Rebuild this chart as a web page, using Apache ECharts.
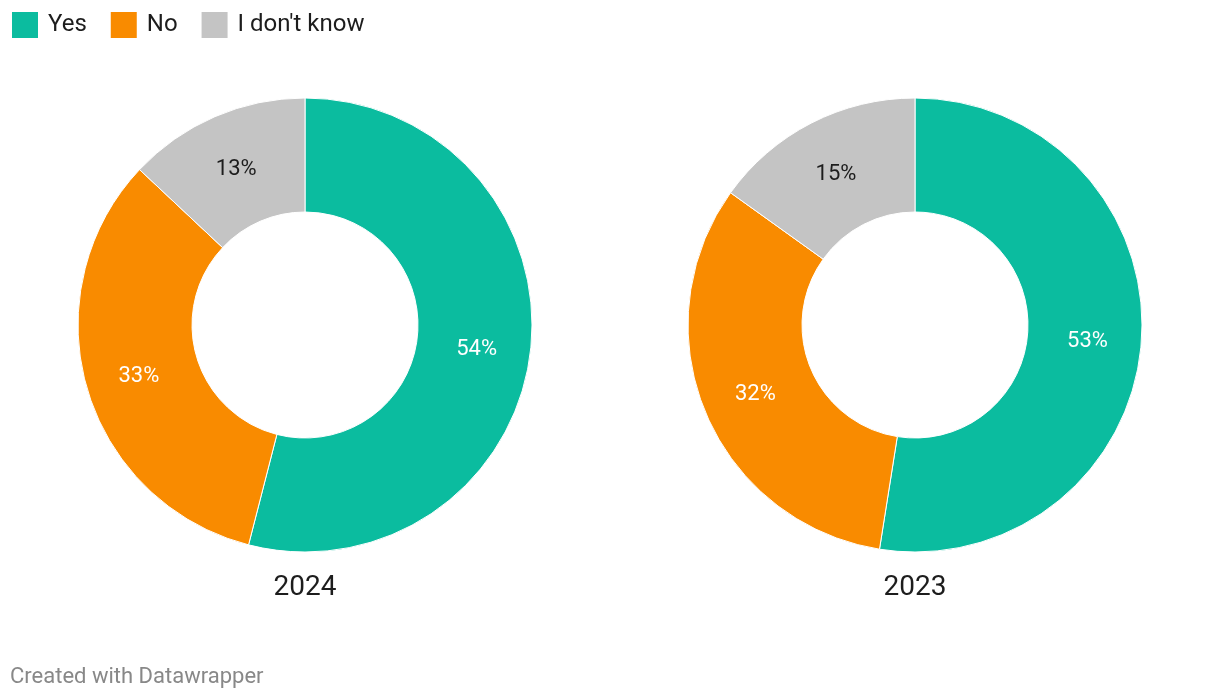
<!DOCTYPE html>
<html><head><meta charset="utf-8">
<script src="https://cdn.jsdelivr.net/npm/echarts@6/dist/echarts.min.js"></script>
<style>html,body{margin:0;padding:0;background:#fff}#c{width:1220px;height:700px}</style>
</head><body><div id="c"></div>
<script>
const categories = ['Yes', 'No', "I don't know"];
const colors = ['#0bbc9f', '#f98b00', '#c4c4c4'];
const labelColors = ['#ffffff', '#ffffff', '#1d1d1d'];
const years = ['2024', '2023'];
const values2024 = [54, 33, 13];
const values2023 = [52.5, 32.4, 15.1];
const allValues = [values2024, values2023];
const centersX = [305, 915];

const chart = echarts.init(document.getElementById('c'), null, {renderer: 'canvas'});
const series = allValues.map((vals, si) => ({
  type: 'pie',
  center: [centersX[si], 325],
  radius: [113, 227],
  startAngle: 90,
  clockwise: true,
  silent: true,
  itemStyle: {borderColor: '#fff', borderWidth: 1},
  label: {show: true, position: 'inside', fontSize: 22, fontFamily: 'Roboto',
    offset: [0, 3],
    formatter: p => Math.round(p.value) + '%'},
  labelLine: {show: false},
  data: vals.map((v, i) => ({
    name: categories[i], value: v,
    itemStyle: {color: colors[i]},
    label: {color: labelColors[i]}
  }))
}));

chart.setOption({
  animation: false,
  textStyle: {fontFamily: 'Roboto'},
  legend: {
    left: 10, top: 10, icon: 'rect', itemWidth: 28, itemHeight: 28, itemGap: 22, padding: 0,
    selectedMode: false,
    data: categories,
    textStyle: {fontSize: 24, color: '#1d1d1d', fontFamily: 'Roboto', padding: [0, 0, 0, 4]}
  },
  title: [
    {text: years[0], left: centersX[0], top: 574, textAlign: 'center', textStyle: {fontSize: 28, fontWeight: 'normal', color: '#1d1d1d', fontFamily: 'Roboto'}, padding: 0},
    {text: years[1], left: centersX[1], top: 574, textAlign: 'center', textStyle: {fontSize: 28, fontWeight: 'normal', color: '#1d1d1d', fontFamily: 'Roboto'}, padding: 0},
    {text: 'Created with Datawrapper', left: 10, top: 666, textStyle: {fontSize: 22, fontWeight: 'normal', color: '#888888', fontFamily: 'Roboto'}, padding: 0}
  ],
  series: series
});
</script></body></html>
